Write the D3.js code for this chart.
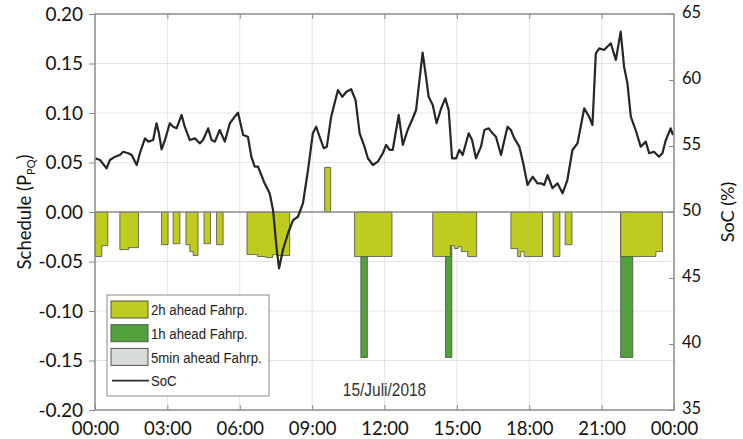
<!DOCTYPE html>
<html>
<head>
<meta charset="utf-8">
<script src="https://cdn.jsdelivr.net/npm/d3@7"></script>
<style>
  body { margin: 0; background: #fff; }
  svg { display: block; }
</style>
</head>
<body>
<svg id="chart" width="743" height="439"></svg>
<script>
// == Daten ==
// Uhrzeit-Beschriftung der x-Achse (alle 3 Stunden)
const xTickHours = [0, 3, 6, 9, 12, 15, 18, 21, 24];
const xTickLabels = ['00:00', '03:00', '06:00', '09:00', '12:00', '15:00', '18:00', '21:00', '00:00'];
const leftTicks = [-0.2, -0.15, -0.1, -0.05, 0, 0.05, 0.1, 0.15, 0.2];
const rightTicks = [35, 40, 45, 50, 55, 60, 65];

// 2h ahead Fahrplan: Segmente [Start (h), Ende (h), Wert]
const fahrp2hStart = [0, 0.28, 1.03, 1.40, 2.76, 3.24, 3.77, 3.93, 4.07, 4.52, 5.04,
  6.30, 6.74, 7.08, 7.37, 7.53, 9.52, 10.76,
  14.00, 14.73, 14.90, 15.05, 15.18, 15.45,
  17.24, 17.52, 17.65, 17.79, 18.99, 19.49, 21.79, 23.25];
const fahrp2hEnd = [0.28, 0.53, 1.40, 1.80, 3.03, 3.52, 3.93, 4.07, 4.27, 4.79, 5.31,
  6.74, 7.08, 7.37, 7.53, 8.07, 9.77, 12.31,
  14.73, 14.90, 15.05, 15.18, 15.45, 15.82,
  17.52, 17.65, 17.79, 18.55, 19.27, 19.77, 23.25, 23.52];
const fahrp2hValue = [-0.045, -0.034, -0.038, -0.036, -0.033, -0.032, -0.033, -0.040, -0.044, -0.032, -0.033,
  -0.043, -0.045, -0.046, -0.043, -0.044, 0.045, -0.045,
  -0.045, -0.034, -0.037, -0.035, -0.040, -0.045,
  -0.037, -0.045, -0.040, -0.045, -0.045, -0.033, -0.045, -0.040];

// 1h ahead Fahrplan
const fahrp1hStart = [11.02, 14.53, 21.79];
const fahrp1hEnd = [11.29, 14.79, 22.29];
const fahrp1hValue = [-0.147, -0.147, -0.147];

// 5min ahead Fahrplan (im Bild nicht sichtbar)
const fahrp5minStart = [];
const fahrp5minEnd = [];
const fahrp5minValue = [];

// Ladezustand SoC (%)
const socHours = [0, 0.21, 0.48, 0.62, 0.83, 1.03, 1.17, 1.38, 1.52, 1.73, 1.86, 2.07, 2.21, 2.41, 2.55, 2.65,
  2.76, 2.90, 3.10, 3.24, 3.38, 3.59, 3.72, 3.93, 4.14, 4.34, 4.48, 4.69, 4.83, 4.97, 5.17, 5.38,
  5.59, 5.79, 5.93, 6.14, 6.34, 6.48, 6.62, 6.76, 7.03, 7.24, 7.38, 7.52, 7.63, 7.79, 8.00, 8.21,
  8.41, 8.62, 8.83, 9.03, 9.17, 9.31, 9.48, 9.61, 9.79, 10.07, 10.25, 10.42, 10.62, 10.80, 10.97,
  11.17, 11.31, 11.52, 11.72, 11.93, 12.07, 12.21, 12.34, 12.59, 12.76, 12.96, 13.17, 13.31, 13.45,
  13.58, 13.72, 13.83, 14.00, 14.16, 14.35, 14.52, 14.66, 14.80, 14.97, 15.10, 15.24, 15.49, 15.63,
  15.79, 16.00, 16.14, 16.32, 16.48, 16.62, 16.83, 16.97, 17.10, 17.24, 17.38, 17.59, 17.75, 17.93,
  18.14, 18.34, 18.48, 18.62, 18.76, 18.96, 19.17, 19.38, 19.58, 19.79, 20.00, 20.28, 20.48, 20.62,
  20.76, 20.90, 21.10, 21.38, 21.59, 21.79, 21.93, 22.07, 22.21, 22.41, 22.62, 22.83, 22.97, 23.17,
  23.38, 23.52, 23.66, 23.86, 23.96];
const socValues = [54.07, 53.94, 53.31, 53.94, 54.19, 54.32, 54.57, 54.45, 54.32, 53.56, 54.45, 55.58, 55.33, 55.45, 56.72, 55.96,
  54.75, 55.45, 56.72, 56.46, 56.34, 57.35, 56.46, 55.45, 55.58, 55.20, 55.45, 56.34, 55.45, 55.33, 56.21, 55.33,
  56.72, 57.22, 57.52, 55.83, 55.70, 54.19, 53.43, 53.43, 52.17, 51.42, 50.15, 47.37, 45.73, 47.12, 48.39, 49.39,
  49.64, 50.66, 53.18, 55.96, 56.46, 55.70, 54.83, 54.95, 57.22, 59.24, 58.73, 59.11, 59.30, 58.48, 55.96,
  54.95, 54.07, 53.56, 53.81, 54.45, 55.08, 54.70, 54.70, 57.35, 55.08, 56.21, 57.10, 57.73, 60.00,
  62.07, 60.25, 58.73, 58.11, 56.72, 57.86, 58.61, 57.73, 54.07, 54.07, 54.70, 54.32, 55.96, 55.45,
  54.07, 54.95, 56.21, 56.34, 55.96, 55.70, 54.32, 55.45, 56.46, 56.21, 55.58, 54.95, 53.69, 52.05,
  52.67, 52.17, 52.17, 52.05, 52.80, 51.80, 52.17, 51.42, 52.42, 54.70, 55.20, 57.86, 57.22, 56.59,
  62.02, 62.40, 62.27, 62.78, 61.52, 63.66, 61.01, 59.75, 57.22, 56.21, 54.95, 55.33, 54.45, 54.57,
  54.19, 54.45, 55.45, 56.34, 55.83];

const legendLabels = ['2h ahead Fahrp.', '1h ahead Fahrp.', '5min ahead Fahrp.', 'SoC'];
const dateLabel = '15/Juli/2018';

// == Konstanten (Layout) ==
const COLOR_2H = '#bfcb1f';
const COLOR_1H = '#52a03b';
const COLOR_5MIN = '#d7dcd8';
const EDGE = '#4d4d4d';
const TICK_FONT = 'Lato, "Noto Sans", sans-serif';
const MATLAB_FONT = '"Liberation Sans", Arial, sans-serif';

const svg = d3.select('#chart');
const plot = {left: 95, right: 674, top: 14, bottom: 410};

const x = d3.scaleLinear().domain([0, 24]).range([plot.left, plot.right]);
const yL = d3.scaleLinear().domain([-0.2, 0.2]).range([plot.bottom, plot.top]);
const yR = d3.scaleLinear().domain([35, 65]).range([plot.bottom, plot.top]);

// Gitternetz
const grid = svg.append('g');
grid.selectAll('line.v')
    .data(xTickHours.slice(1, -1))
    .enter().append('line')
    .attr('x1', d => x(d)).attr('x2', d => x(d))
    .attr('y1', plot.top).attr('y2', plot.bottom)
    .attr('stroke', '#e4e4e4').attr('stroke-width', 1);
grid.selectAll('line.h')
    .data(leftTicks.slice(1, -1))
    .enter().append('line')
    .attr('x1', plot.left).attr('x2', plot.right)
    .attr('y1', d => yL(d)).attr('y2', d => yL(d))
    .attr('stroke', '#e4e4e4').attr('stroke-width', 1);

/**
 * Fasst aneinandergrenzende Segmente zu Bloecken zusammen
 */
function buildBlocks(starts, ends, values) {
    const blocks = [];
    let current = null;
    for (let i = 0; i < starts.length; i++) {
        if (current && Math.abs(current[current.length - 1].h - starts[i]) < 1e-6) {
            current.pop();
        }
        else {
            current = [];
            blocks.push(current);
        }
        current.push({h: starts[i], v: values[i]});
        current.push({h: ends[i], v: values[i]});
    }
    return blocks;
}

const stepArea = d3.area()
    .curve(d3.curveStepAfter)
    .x(d => x(d.h))
    .y0(yL(0))
    .y1(d => yL(d.v));

// 1h ahead (unten), 2h ahead (oben drauf)
svg.append('g').selectAll('path')
    .data(buildBlocks(fahrp1hStart, fahrp1hEnd, fahrp1hValue))
    .enter().append('path')
    .attr('d', stepArea)
    .attr('fill', COLOR_1H).attr('stroke', EDGE).attr('stroke-width', 0.8);

svg.append('g').selectAll('path')
    .data(buildBlocks(fahrp5minStart, fahrp5minEnd, fahrp5minValue))
    .enter().append('path')
    .attr('d', stepArea)
    .attr('fill', COLOR_5MIN).attr('stroke', EDGE).attr('stroke-width', 0.8);

svg.append('g').selectAll('path')
    .data(buildBlocks(fahrp2hStart, fahrp2hEnd, fahrp2hValue))
    .enter().append('path')
    .attr('d', stepArea)
    .attr('fill', COLOR_2H).attr('stroke', EDGE).attr('stroke-width', 0.8);

// Nulllinie
svg.append('line')
    .attr('x1', plot.left).attr('x2', plot.right)
    .attr('y1', yL(0)).attr('y2', yL(0))
    .attr('stroke', '#8f8f8f').attr('stroke-width', 1.5);

// SoC-Linie
const socData = socHours.map((h, i) => ({h: h, s: socValues[i]}));
svg.append('path')
    .datum(socData)
    .attr('d', d3.line().x(d => x(d.h)).y(d => yR(d.s)))
    .attr('fill', 'none')
    .attr('stroke', '#262626')
    .attr('stroke-width', 2.2)
    .attr('stroke-linejoin', 'round');

// Rahmen + Achsen
const axisColor = '#8a8a8a';
svg.append('rect')
    .attr('x', plot.left).attr('y', plot.top)
    .attr('width', plot.right - plot.left).attr('height', plot.bottom - plot.top)
    .attr('fill', 'none').attr('stroke', axisColor).attr('stroke-width', 1.5);

// x-Achse unten/oben mit Ticks nach innen
svg.append('g')
    .attr('transform', `translate(0,${plot.bottom})`)
    .call(d3.axisBottom(x).tickValues(xTickHours).tickSizeInner(-5).tickSizeOuter(0)
        .tickFormat((d, i) => xTickLabels[i]))
    .call(g => {
        g.select('.domain').remove();
        g.selectAll('.tick line').attr('stroke', axisColor);
        g.selectAll('.tick text')
            .attr('y', 11.5).attr('dy', '0.71em')
            .attr('font-family', TICK_FONT).attr('font-size', 18.5).attr('fill', '#111');
    });
svg.append('g')
    .attr('transform', `translate(0,${plot.top})`)
    .call(d3.axisTop(x).tickValues(xTickHours.slice(1, -1)).tickSizeInner(-5).tickSizeOuter(0).tickFormat(''))
    .call(g => {
        g.select('.domain').remove();
        g.selectAll('.tick line').attr('stroke', axisColor);
    });

// linke y-Achse
svg.append('g')
    .attr('transform', `translate(${plot.left},0)`)
    .call(d3.axisLeft(yL).tickValues(leftTicks).tickSizeInner(6).tickSizeOuter(0))
    .call(g => {
        g.select('.domain').remove();
        g.selectAll('.tick line').attr('stroke', axisColor);
        g.selectAll('.tick text')
            .attr('x', -12).attr('text-anchor', 'end')
            .attr('font-family', TICK_FONT).attr('font-size', 19).attr('fill', '#111')
            .text(d => d3.format('.2f')(d).replace('−', '-'));
    });

// rechte y-Achse
svg.append('g')
    .attr('transform', `translate(${plot.right},0)`)
    .call(d3.axisLeft(yR).tickValues(rightTicks).tickSizeInner(5).tickSizeOuter(0).tickFormat(d3.format('d')))
    .call(g => {
        g.select('.domain').remove();
        g.selectAll('.tick line').attr('stroke', axisColor);
        g.selectAll('.tick text')
            .attr('x', 8).attr('dy', '0.22em').attr('text-anchor', 'start')
            .attr('font-family', TICK_FONT).attr('font-size', 16.5).attr('fill', '#111');
    });

// Achsentitel
const yTitle = svg.append('text')
    .attr('transform', `translate(31,${(plot.top + plot.bottom) / 2}) rotate(-90)`)
    .attr('text-anchor', 'middle')
    .attr('font-family', TICK_FONT).attr('font-size', 18.5).attr('fill', '#111');
yTitle.append('tspan').text('Schedule (P');
yTitle.append('tspan').attr('font-size', 11).attr('dy', 4).text('PQ');
yTitle.append('tspan').attr('dy', -4).text(')');

svg.append('text')
    .attr('transform', `translate(734,${(plot.top + plot.bottom) / 2}) rotate(-90)`)
    .attr('text-anchor', 'middle')
    .attr('font-family', TICK_FONT).attr('font-size', 18).attr('fill', '#111')
    .text('SoC (%)');

// Datum
svg.append('text')
    .attr('transform', `translate(${x(12)},${yL(-0.186)}) scale(0.86,1)`)
    .attr('text-anchor', 'middle')
    .attr('font-family', MATLAB_FONT).attr('font-size', 18).attr('fill', '#333')
    .text(dateLabel);

// == Legende ==
const legend = svg.append('g').attr('transform', 'translate(107,295)');
legend.append('rect')
    .attr('width', 162).attr('height', 101)
    .attr('fill', '#fff').attr('stroke', '#8a8a8a').attr('stroke-width', 1);
const legendColors = [COLOR_2H, COLOR_1H, COLOR_5MIN, null];
const rows = legend.selectAll('g.item')
    .data(legendLabels)
    .enter().append('g')
    .attr('transform', (d, i) => `translate(4,${6 + i * 23.7})`);
rows.filter((d, i) => legendColors[i] !== null)
    .append('rect')
    .attr('width', 37).attr('height', 17)
    .attr('fill', (d, i) => legendColors[i])
    .attr('stroke', '#555').attr('stroke-width', 1);
rows.filter((d, i) => legendColors[i] === null)
    .append('line')
    .attr('x1', 1).attr('x2', 38).attr('y1', 8.5).attr('y2', 8.5)
    .attr('stroke', '#2e2e2e').attr('stroke-width', 1.6);
rows.append('text')
    .attr('transform', 'translate(40,9) scale(0.88,1)')
    .attr('dy', '0.35em')
    .attr('font-family', MATLAB_FONT).attr('font-size', 15).attr('fill', '#222')
    .text(d => d);
</script>
</body>
</html>
